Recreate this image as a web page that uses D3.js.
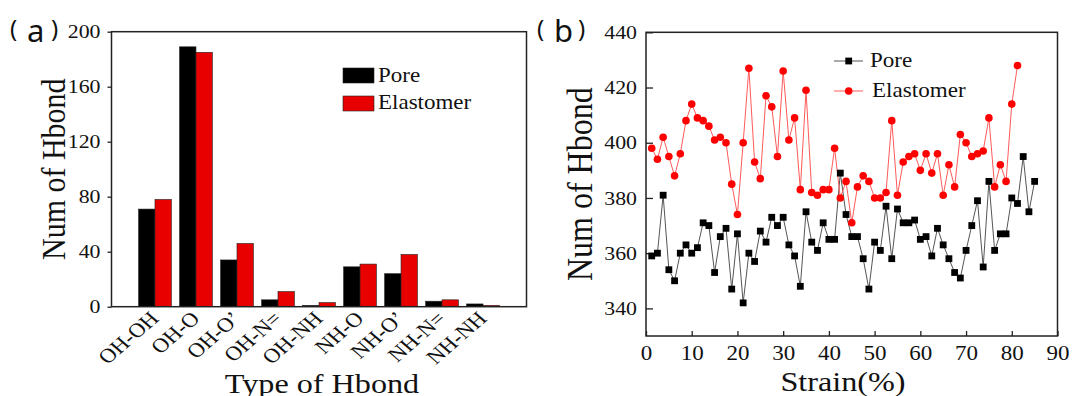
<!DOCTYPE html>
<html>
<head>
<meta charset="utf-8">
<script src="https://cdn.jsdelivr.net/npm/d3@7"></script>
<style>
  body { margin: 0; background: #fff; }
  svg text { font-family: "Liberation Serif", "Times New Roman", serif; fill: #111; }
  svg text.tag { font-family: "Noto Sans", "DejaVu Sans", sans-serif; }
</style>
</head>
<body>
<svg id="fig" width="1072" height="396"></svg>
<script>
// panel (a): hydrogen bond counts per type
const hbondTypes = ["OH-OH", "OH-O", "OH-O\u2019", "OH-N=", "OH-NH", "NH-O", "NH-O\u2019", "NH-N=", "NH-NH"];
const poreCounts = [71, 189, 34, 5, 1, 29, 24, 4, 2];
const elastomerCounts = [78, 185, 46, 11, 3, 31, 38, 5, 1];
const countTicks = [0, 40, 80, 120, 160, 200];

// panel (b): hydrogen bonds vs strain
const strain = [1.25, 2.5, 3.75, 5, 6.25, 7.5, 8.75, 10, 11.25, 12.5, 13.75, 15, 16.25, 17.5, 18.75, 20,
  21.25, 22.5, 23.75, 25, 26.25, 27.5, 28.75, 30, 31.25, 32.5, 33.75, 35, 36.25, 37.5, 38.75, 40,
  41.25, 42.5, 43.75, 45, 46.25, 47.5, 48.75, 50, 51.25, 52.5, 53.75, 55, 56.25, 57.5, 58.75, 60,
  61.25, 62.5, 63.75, 65, 66.25, 67.5, 68.75, 70, 71.25, 72.5, 73.75, 75, 76.25, 77.5, 78.75, 80,
  81.25, 82.5, 83.75, 85];
const poreHbond = [359, 360, 381, 354, 350, 360, 363, 360, 362, 371, 370, 353, 366, 369, 347, 367,
  342, 360, 357, 368, 364, 373, 370, 373, 363, 359, 348, 375, 364, 361, 371, 365,
  365, 389, 374, 366, 366, 358, 347, 364, 361, 377, 358, 376, 371, 371, 372, 365,
  366, 359, 369, 363, 358, 353, 351, 361, 370, 379, 355, 386, 361, 367, 367, 380,
  378, 395, 375, 386];
const elastomerHbond = [398, 394, 402, 395, 388, 396, 408, 414, 409, 408, 406, 401, 402, 400, 385, 374,
  400, 427, 393, 387, 417, 413, 395, 426, 401, 409, 383, 419, 382, 381, 383, 383,
  398, 380, 386, 371, 384, 388, 386, 380, 380, 382, 408, 381, 393, 395, 396, 390,
  396, 389, 396, 381, 392, 384, 403, 400, 395, 396, 397, 409, 384, 392, 386, 414,
  428];
const strainTicks = [0, 10, 20, 30, 40, 50, 60, 70, 80, 90];
const hbondTicks = [340, 360, 380, 400, 420, 440];

const svg = d3.select("#fig");
const K = 1.15; // the source figure is stretched sideways a little

// widen text around its own anchor point
function widen(sel, k) {
  sel.each(function () {
    const t = d3.select(this);
    const x = +t.attr("x") || 0;
    t.attr("transform", "translate(" + (x * (1 - k)) + ",0) scale(" + k + ",1)");
  });
}

// "(a)" style panel tag, drawn piece by piece
function panelTag(g, x0, letter) {
  g.append("text").attr("class", "tag").attr("x", x0).attr("y", 37).attr("font-size", 24).text("(");
  g.append("text").attr("class", "tag").attr("x", x0 + 17).attr("y", 42).attr("font-size", 31).text(letter);
  g.append("text").attr("class", "tag").attr("x", x0 + 41).attr("y", 37).attr("font-size", 24).text(")");
}

//---------------- panel (a) ----------------//
const a = { left: 111.5, right: 526.5, top: 31.7, bottom: 306.7 };
const xA = d3.scaleBand().domain(hbondTypes).range([a.left, a.right])
  .paddingInner(0.2).paddingOuter(0.66);
const xSub = d3.scaleBand().domain(["Pore", "Elastomer"]).range([0, xA.bandwidth()]);
const yA = d3.scaleLinear().domain([0, 200]).range([a.bottom, a.top]);
const barColor = { Pore: "#000", Elastomer: "#e80000" };

const rows = hbondTypes.map((t, i) => ({ type: t, Pore: poreCounts[i], Elastomer: elastomerCounts[i] }));
const gA = svg.append("g");

gA.selectAll("g.grp").data(rows).enter().append("g")
  .attr("class", "grp")
  .attr("transform", d => "translate(" + xA(d.type) + ",0)")
  .selectAll("rect")
  .data(d => ["Pore", "Elastomer"].map(k => ({ key: k, v: d[k] })))
  .enter().append("rect")
  .attr("x", d => xSub(d.key))
  .attr("width", xSub.bandwidth())
  .attr("y", d => yA(d.v))
  .attr("height", d => yA(0) - yA(d.v))
  .attr("fill", d => barColor[d.key])
  .attr("stroke", "#222")
  .attr("stroke-width", 0.6);

// y axis
const yAxA = gA.append("g").attr("transform", "translate(" + a.left + ",0)")
  .call(d3.axisLeft(yA).tickValues(countTicks).tickSize(4).tickPadding(7));
yAxA.select(".domain").remove();
yAxA.selectAll("line").attr("stroke", "#222").attr("stroke-width", 1.3);
yAxA.selectAll("text").attr("font-size", 19).attr("font-family", null).attr("fill", "#111").call(widen, K);

// x axis with slanted labels
const xAxA = gA.append("g").attr("transform", "translate(0," + a.bottom + ")")
  .call(d3.axisBottom(xA).tickSize(0));
xAxA.select(".domain").remove();
xAxA.selectAll("text")
  .attr("font-size", 20).attr("font-family", null).attr("fill", "#111")
  .attr("text-anchor", "end").attr("x", 0).attr("y", 0).attr("dy", 0)
  .attr("transform", "translate(5,13) scale(" + K + ",1) rotate(-45)");

gA.append("rect")
  .attr("x", a.left).attr("y", a.top)
  .attr("width", a.right - a.left).attr("height", a.bottom - a.top)
  .attr("fill", "none").attr("stroke", "#222").attr("stroke-width", 1.5);

// legend (a)
const legA = gA.append("g").attr("transform", "translate(343,68)");
["Pore", "Elastomer"].forEach((k, i) => {
  legA.append("rect").attr("x", 0).attr("y", i * 28).attr("width", 31).attr("height", 15)
    .attr("fill", barColor[k]).attr("stroke", "#222").attr("stroke-width", 0.6);
  legA.append("text").attr("x", 35).attr("y", i * 28 + 13.5).attr("font-size", 20).text(k).call(widen, K);
});

// titles (a)
gA.append("text").attr("x", (a.left + a.right) / 2 + 3).attr("y", 393)
  .attr("text-anchor", "middle").attr("font-size", 28).text("Type of Hbond").call(widen, K);
gA.append("text")
  .attr("transform", "translate(65," + ((a.top + a.bottom) / 2) + ") scale(" + K + ",1) rotate(-90)")
  .attr("text-anchor", "middle").attr("font-size", 30).text("Num of Hbond");
panelTag(gA, 10, "a");

//---------------- panel (b) ----------------//
const b = { left: 646, right: 1057.5, top: 32.3, bottom: 336 };
const xB = d3.scaleLinear().domain([0, 90]).range([b.left, b.right]);
const yB = d3.scaleLinear().domain([330, 440]).range([b.bottom, b.top]);
const gB = svg.append("g");

const yAxB = gB.append("g").attr("transform", "translate(" + b.left + ",0)")
  .call(d3.axisLeft(yB).tickValues(hbondTicks).tickSize(-7).tickPadding(9));
yAxB.select(".domain").remove();
yAxB.selectAll("line").attr("stroke", "#222").attr("stroke-width", 1.3);
yAxB.selectAll("text").attr("font-size", 19).attr("font-family", null).attr("fill", "#111").call(widen, K);

const xAxB = gB.append("g").attr("transform", "translate(0," + b.bottom + ")")
  .call(d3.axisBottom(xB).tickValues(strainTicks).tickSize(-5).tickPadding(10));
xAxB.select(".domain").remove();
xAxB.selectAll("line").attr("stroke", "#222").attr("stroke-width", 1.3);
xAxB.selectAll("text").attr("font-size", 20).attr("font-family", null).attr("fill", "#111").call(widen, K);

const hbLine = d3.line().x((d, i) => xB(strain[i])).y(d => yB(d));
gB.append("path").datum(poreHbond).attr("d", hbLine)
  .attr("fill", "none").attr("stroke", "#555").attr("stroke-width", 1);
gB.append("path").datum(elastomerHbond).attr("d", hbLine)
  .attr("fill", "none").attr("stroke", "#ff5a5a").attr("stroke-width", 1);

gB.selectAll("rect.pore").data(poreHbond).enter().append("rect")
  .attr("class", "pore")
  .attr("x", (d, i) => xB(strain[i]) - 3.4).attr("y", d => yB(d) - 3.4)
  .attr("width", 6.8).attr("height", 6.8).attr("fill", "#000");
gB.selectAll("circle.elas").data(elastomerHbond).enter().append("circle")
  .attr("class", "elas")
  .attr("cx", (d, i) => xB(strain[i])).attr("cy", d => yB(d))
  .attr("r", 3.8).attr("fill", "#ff0000");

gB.append("rect")
  .attr("x", b.left).attr("y", b.top)
  .attr("width", b.right - b.left).attr("height", b.bottom - b.top)
  .attr("fill", "none").attr("stroke", "#222").attr("stroke-width", 1.5);

// legend (b)
const legB = gB.append("g");
legB.append("line").attr("x1", 834).attr("x2", 863).attr("y1", 61).attr("y2", 61)
  .attr("stroke", "#555").attr("stroke-width", 1);
legB.append("rect").attr("x", 845.3).attr("y", 57.6).attr("width", 6.8).attr("height", 6.8).attr("fill", "#000");
legB.append("text").attr("x", 870).attr("y", 67).attr("font-size", 22).text("Pore").call(widen, 1.05);
legB.append("line").attr("x1", 834).attr("x2", 863).attr("y1", 91).attr("y2", 91)
  .attr("stroke", "#ff5a5a").attr("stroke-width", 1);
legB.append("circle").attr("cx", 848.7).attr("cy", 91).attr("r", 3.8).attr("fill", "#ff0000");
legB.append("text").attr("x", 872).attr("y", 97).attr("font-size", 22).text("Elastomer").call(widen, 1.05);

// titles (b)
gB.append("text").attr("x", 843).attr("y", 391)
  .attr("text-anchor", "middle").attr("font-size", 28).text("Strain(%)").call(widen, K);
gB.append("text")
  .attr("transform", "translate(592," + ((b.top + b.bottom) / 2) + ") scale(" + K + ",1) rotate(-90)")
  .attr("text-anchor", "middle").attr("font-size", 32).text("Num of Hbond");
panelTag(gB, 537, "b");
</script>
</body>
</html>
